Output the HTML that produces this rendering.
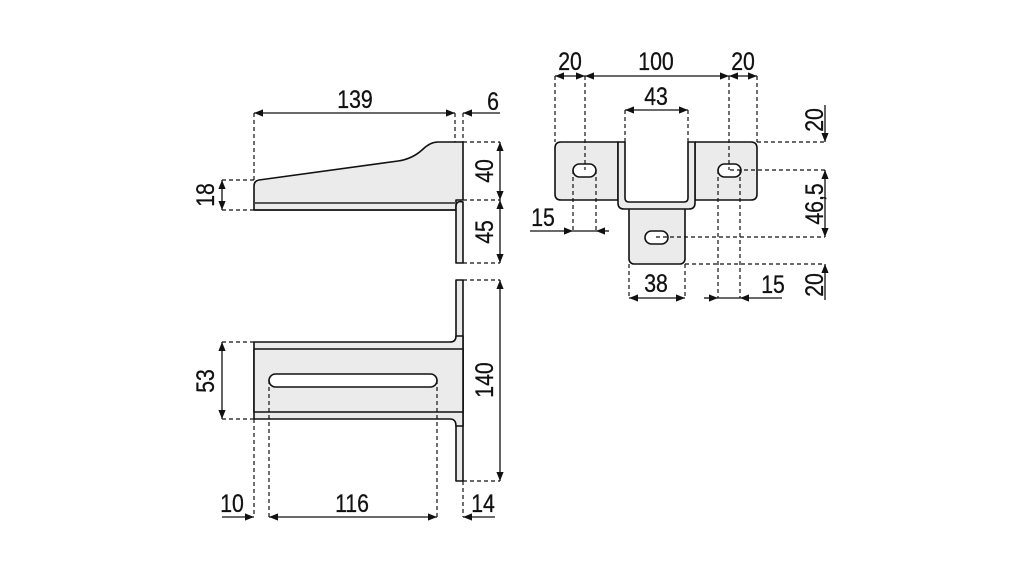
<!DOCTYPE html>
<html><head><meta charset="utf-8"><style>
html,body{margin:0;padding:0;background:#fff;width:1021px;height:567px;overflow:hidden}
svg{display:block}
text{font-family:"Liberation Sans",sans-serif;font-size:25px;fill:#111;stroke:#111;stroke-width:0.3}
</style></head><body>
<svg width="1021" height="567" viewBox="0 0 1021 567" xmlns="http://www.w3.org/2000/svg">
<defs>
<marker id="a" viewBox="0 0 10 10" refX="10" refY="5" markerWidth="9" markerHeight="9" orient="auto-start-reverse" markerUnits="userSpaceOnUse"><path d="M0,1 L10,5 L0,9 Z" fill="#111"/></marker>
</defs>
<g fill="#ebebeb" stroke="#111" stroke-width="1.6" stroke-linejoin="round">
<path d="M254,210 L254,186 Q254,181 259,180 L398,161 Q412,159 422,150 Q430,142 438,142 L463,142 L463,200 L456,200 L456,210 Z"/>
<path d="M456,207 Q456,200 463,202 L463,263 L456,263 Z"/>
<path d="M254,210 L456,210" fill="none"/>
<path d="M456,280 L463,280 L463,481 L456,481 Z"/>
<path d="M254,342 L450,342 Q456,342 456,336 L463,336 L463,426 L456,426 Q456,419 450,419 L254,419 Z"/>
<path d="M254,349 L463,349 L463,412 L254,412 Z"/>
<path d="M555,148 Q555,142 561,142 L618,142 L618,200 L561,200 Q555,200 555,194 Z"/>
<path d="M695,142 L751,142 Q757,142 757,148 L757,194 Q757,200 751,200 L695,200 Z"/>
<rect x="629" y="205" width="56" height="59" rx="5"/>
<path d="M618,142 L625,142 L625,198 Q625,202 629,202 L684,202 Q688,202 688,198 L688,142 L695,142 L695,203 Q695,209 689,209 L624,209 Q618,209 618,203 Z"/>
</g>
<g fill="none" stroke="#555" stroke-width="2">
<line x1="255" y1="203" x2="456" y2="203"/>
</g>
<g fill="#fff" stroke="#111" stroke-width="1.6">
<rect x="269" y="374" width="168" height="13" rx="6.5"/>
<rect x="573" y="164" width="23" height="13" rx="6.5"/>
<rect x="718" y="164" width="23" height="13" rx="6.5"/>
<rect x="645" y="231" width="23" height="13" rx="6.5"/>
</g>
<g fill="none" stroke="#111" stroke-width="1.2" stroke-dasharray="4,3">
<path d="M254,113V180 M455,113V142 M463,113V142 M222,180H254 M222,210H254 M463,142H500 M463,200H500 M463,263H500"/>
<path d="M222,342H254 M222,419H254 M463,280H500 M463,481H500 M254,419V517 M269,380V517 M437,380V517 M463,481V517"/>
<path d="M555,76V142 M585,76V170 M729,76V170 M757,76V142 M625,110V142 M688,110V142"/>
<path d="M757,142H825 M730,170H825 M656,237H825 M685,264H825 M573,170V231 M596,170V231 M629,264V298 M685,264V298 M718,170V298 M740,170V298"/>
</g>
<g fill="none" stroke="#111" stroke-width="1.3">
<line x1="254" y1="113" x2="455" y2="113" marker-start="url(#a)" marker-end="url(#a)"/>
<line x1="500" y1="113" x2="463" y2="113" marker-end="url(#a)"/>
<line x1="222" y1="180" x2="222" y2="210" marker-start="url(#a)" marker-end="url(#a)"/>
<line x1="500" y1="142" x2="500" y2="200" marker-start="url(#a)" marker-end="url(#a)"/>
<line x1="500" y1="200" x2="500" y2="263" marker-start="url(#a)" marker-end="url(#a)"/>
<line x1="222" y1="342" x2="222" y2="419" marker-start="url(#a)" marker-end="url(#a)"/>
<line x1="500" y1="280" x2="500" y2="481" marker-start="url(#a)" marker-end="url(#a)"/>
<line x1="222" y1="517" x2="254" y2="517" marker-end="url(#a)"/>
<line x1="269" y1="517" x2="437" y2="517" marker-start="url(#a)" marker-end="url(#a)"/>
<line x1="495" y1="517" x2="463" y2="517" marker-end="url(#a)"/>
<line x1="555" y1="76" x2="585" y2="76" marker-start="url(#a)" marker-end="url(#a)"/>
<line x1="585" y1="76" x2="729" y2="76" marker-start="url(#a)" marker-end="url(#a)"/>
<line x1="729" y1="76" x2="757" y2="76" marker-start="url(#a)" marker-end="url(#a)"/>
<line x1="625" y1="110" x2="688" y2="110" marker-start="url(#a)" marker-end="url(#a)"/>
<line x1="825" y1="105" x2="825" y2="142" marker-end="url(#a)"/>
<line x1="825" y1="170" x2="825" y2="237" marker-start="url(#a)" marker-end="url(#a)"/>
<line x1="825" y1="300" x2="825" y2="264" marker-end="url(#a)"/>
<line x1="530" y1="231" x2="573" y2="231" marker-end="url(#a)"/>
<line x1="573" y1="231" x2="596" y2="231"/>
<line x1="609" y1="231" x2="596" y2="231" marker-end="url(#a)"/>
<line x1="629" y1="298" x2="685" y2="298" marker-start="url(#a)" marker-end="url(#a)"/>
<line x1="704" y1="298" x2="718" y2="298" marker-end="url(#a)"/>
<line x1="718" y1="298" x2="740" y2="298"/>
<line x1="782" y1="298" x2="740" y2="298" marker-end="url(#a)"/>
</g>
<g text-anchor="middle">
<text transform="translate(355,108) scale(0.85,1)">139</text>
<text transform="translate(493,110) scale(0.85,1)">6</text>
<text transform="translate(232,512) scale(0.85,1)">10</text>
<text transform="translate(352,512) scale(0.85,1)">116</text>
<text transform="translate(483,512) scale(0.85,1)">14</text>
<text transform="translate(570,70) scale(0.85,1)">20</text>
<text transform="translate(656,70) scale(0.85,1)">100</text>
<text transform="translate(743,70) scale(0.85,1)">20</text>
<text transform="translate(656,105) scale(0.85,1)">43</text>
<text transform="translate(543,226) scale(0.85,1)">15</text>
<text transform="translate(656,292) scale(0.85,1)">38</text>
<text transform="translate(773,293) scale(0.85,1)">15</text>
<text transform="translate(214,195) rotate(-90) scale(0.85,1)">18</text>
<text transform="translate(493,171) rotate(-90) scale(0.85,1)">40</text>
<text transform="translate(493,232) rotate(-90) scale(0.85,1)">45</text>
<text transform="translate(214,381) rotate(-90) scale(0.85,1)">53</text>
<text transform="translate(493,380) rotate(-90) scale(0.85,1)">140</text>
<text transform="translate(823,120) rotate(-90) scale(0.85,1)">20</text>
<text transform="translate(823,204) rotate(-90) scale(0.85,1)">46,5</text>
<text transform="translate(823,285) rotate(-90) scale(0.85,1)">20</text>
</g>
</svg>
</body></html>
